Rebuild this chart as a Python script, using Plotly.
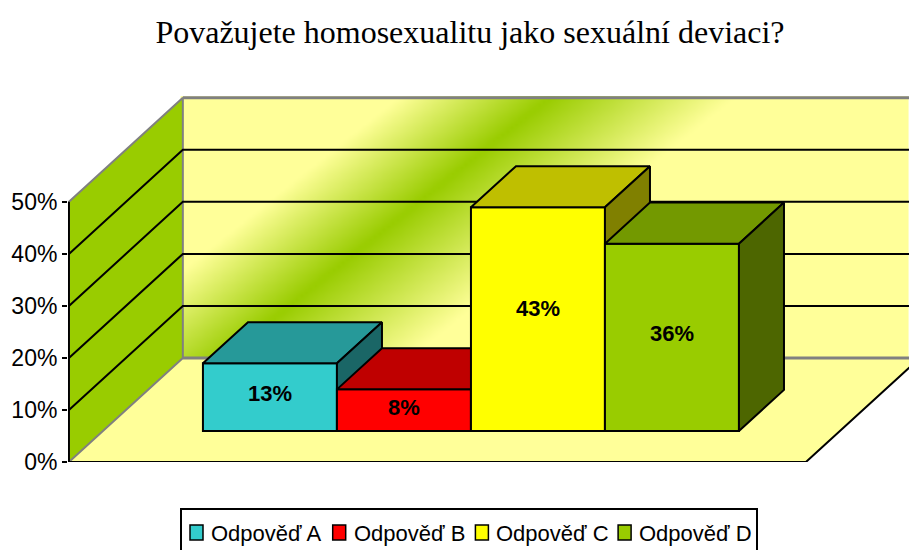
import numpy as np
import plotly.graph_objects as go

categories = ['Odpověď A', 'Odpověď B', 'Odpověď C', 'Odpověď D']
values = [13, 8, 43, 36]
tick_values = [0, 10, 20, 30, 40, 50]
tick_labels = ['0%', '10%', '20%', '30%', '40%', '50%']

front_colors = ['#33CCCC', '#FF0000', '#FFFF00', '#99CC00']
top_colors = ['#269999', '#BF0000', '#BFBF00', '#739900']
side_colors = ['#1A6666', '#800000', '#808000', '#4D6600']

# axis units: one category = 134px, one percent = 5.2px
x_range = [-1.507, 4.769]
y_range = [0, 71.5]
floor_left, floor_right = -1.5, 4.0
wall_dx, wall_dy = 0.85, 20
bar_dx, bar_dy = 0.336, 7.9
bar_base = 5.96
label_lift = [4, 3, 11, 4]

fig = go.Figure()

# back wall with the diagonal green band
grid_x = np.linspace(floor_left + wall_dx, x_range[1], 160)
grid_y = np.linspace(wall_dy, wall_dy + 50, 80)
gx, gy = np.meshgrid(grid_x, grid_y)
offset = (gx - 0.097) - (gy - 29.2) / 20.6
band = np.where(offset < 0, 1 + offset / 1.12, 1 - offset / 1.38).clip(0, 1)
fig.add_trace(go.Heatmap(
    x=grid_x, y=grid_y, z=band, zmin=0, zmax=1, zsmooth='best',
    colorscale=[[0, '#FFFF99'], [1, '#99CC00']],
    showscale=False, hoverinfo='skip'
))


def polygon(xs, ys, fill, line_color='black', line_width=2, xaxis='x', yaxis='y'):
    fig.add_trace(go.Scatter(
        x=xs, y=ys, mode='lines', fill='toself', fillcolor=fill,
        line=dict(color=line_color, width=line_width),
        showlegend=False, hoverinfo='skip', cliponaxis=False,
        xaxis=xaxis, yaxis=yaxis
    ))


def segment(xs, ys, color='black', width=2):
    fig.add_trace(go.Scatter(
        x=xs, y=ys, mode='lines', line=dict(color=color, width=width),
        showlegend=False, hoverinfo='skip', cliponaxis=False
    ))


# floor
back_left = floor_left + wall_dx
polygon([floor_left, floor_right, floor_right + wall_dx, back_left, floor_left],
        [0, 0, wall_dy, wall_dy, 0], '#FFFF99', line_color='rgba(0,0,0,0)', line_width=0)
# left wall
top = tick_values[-1]
polygon([floor_left, back_left, back_left, floor_left, floor_left],
        [0, wall_dy, wall_dy + top, top, 0], '#99CC00', line_color='#808080')

for tick in tick_values[1:-1]:
    segment([floor_left, back_left, x_range[1]], [tick, tick + wall_dy, tick + wall_dy])
segment([back_left, x_range[1]], [wall_dy + top, wall_dy + top], color='#808080', width=3)
segment([back_left, x_range[1]], [wall_dy, wall_dy], color='#808080', width=3)
segment([floor_left, floor_right, floor_right + wall_dx], [0, 0, wall_dy])
segment([floor_left, floor_left], [0, top])

# each bar sits in its own overlaid subplot so they stack left to right
axis_style = dict(visible=False, fixedrange=True)
for i, (name, value) in enumerate(zip(categories, values)):
    n = i + 2
    xa, ya = f'x{n}', f'y{n}'
    fig.add_trace(go.Bar(
        x=[i], y=[value], base=bar_base, width=1, name=name, showlegend=False,
        marker=dict(color=front_colors[i], line=dict(color='black', width=2)),
        hoverinfo='skip', xaxis=xa, yaxis=ya
    ))
    left, right = i - 0.5, i + 0.5
    low, high = bar_base, bar_base + value
    polygon([left, right, right + bar_dx, left + bar_dx, left],
            [high, high, high + bar_dy, high + bar_dy, high], top_colors[i], xaxis=xa, yaxis=ya)
    polygon([right, right + bar_dx, right + bar_dx, right, right],
            [high, high + bar_dy, low + bar_dy, low, high], side_colors[i], xaxis=xa, yaxis=ya)
    fig.layout[f'xaxis{n}'] = dict(overlaying='x', range=x_range, anchor=f'y{n}', **axis_style)
    fig.layout[f'yaxis{n}'] = dict(overlaying='y', range=y_range, anchor=f'x{n}', **axis_style)
    fig.add_annotation(
        x=i, y=bar_base + value / 2, xref=xa, yref=ya, text=f'<b>{value}%</b>',
        showarrow=False, yshift=label_lift[i],
        font=dict(family='Liberation Sans', size=22, color='black')
    )


# legend box runs off the bottom of the page, so it is laid out by hand
def paper_x(px):
    return (px - 68) / 841


def paper_y(py):
    return (462 - py) / 372


fig.add_shape(type='rect', xref='paper', yref='paper', x0=paper_x(181), x1=paper_x(757),
              y0=paper_y(570), y1=paper_y(509), fillcolor='white', line=dict(color='black', width=2))
for i, name in enumerate(categories):
    start = 190 + i * 142.7
    fig.add_shape(type='rect', xref='paper', yref='paper', x0=paper_x(start), x1=paper_x(start + 13),
                  y0=paper_y(540), y1=paper_y(525), fillcolor=front_colors[i],
                  line=dict(color='black', width=1.5))
    fig.add_annotation(
        x=paper_x(start + 20), y=paper_y(533), xref='paper', yref='paper', text=name,
        showarrow=False, xanchor='left', yanchor='middle', xshift=-1,
        font=dict(family='Liberation Sans', size=22, color='black')
    )

fig.update_layout(
    width=909, height=550,
    margin=dict(l=68, r=0, t=90, b=88),
    paper_bgcolor='white', plot_bgcolor='white',
    barmode='overlay',
    title=dict(
        text='Považujete homosexualitu jako sexuální deviaci?',
        font=dict(family='Liberation Serif', size=32, color='black'),
        x=0.517, xanchor='center', y=0.942, yanchor='middle'
    ),
    xaxis=dict(range=x_range, visible=False, fixedrange=True),
    yaxis=dict(
        range=y_range, tickvals=tick_values, ticktext=tick_labels,
        showgrid=False, zeroline=False, showline=False, fixedrange=True,
        ticks='outside', ticklen=5, tickwidth=2, tickcolor='black',
        tickfont=dict(family='Liberation Sans', size=23, color='black')
    ),
    showlegend=False
)

# drop the default body margin so the figure fills the whole window
fig.write_html('out.html', config=dict(displayModeBar=False),
               post_script="document.body.style.margin='0';")
